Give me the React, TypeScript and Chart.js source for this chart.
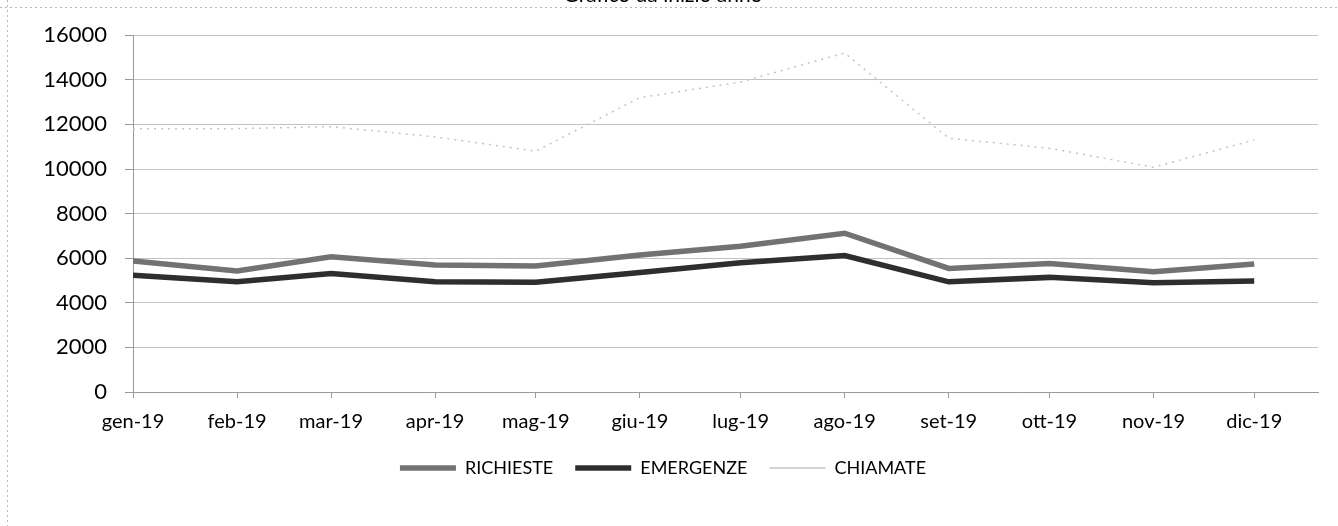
import React, { useEffect, useRef } from "react";
import { Chart, registerables } from "chart.js";

Chart.register(...registerables);

const TITLE = "Grafico da inizio anno";
const monthLabels = ["gen-19", "feb-19", "mar-19", "apr-19", "mag-19", "giu-19", "lug-19", "ago-19", "set-19", "ott-19", "nov-19", "dic-19"];
// day offset of the first day of each month from 1 Jan 2019 (date axis)
const monthDays = [0, 31, 59, 90, 120, 151, 181, 212, 243, 273, 304, 334];
const richieste = [5880, 5430, 6060, 5690, 5650, 6140, 6540, 7120, 5540, 5760, 5390, 5740];
const emergenze = [5240, 4940, 5310, 4940, 4920, 5360, 5800, 6120, 4940, 5140, 4900, 4980];
const chiamate = [11810, 11810, 11900, 11440, 10800, 13200, 13900, 15200, 11380, 10930, 10080, 11300];
const yTicks = [0, 2000, 4000, 6000, 8000, 10000, 12000, 14000, 16000];

const FONT = "Lato, 'Noto Sans', sans-serif";

const framePlugin = {
  id: "frame",
  beforeDraw(chart: any) {
    const ctx = chart.ctx;
    ctx.save();
    ctx.strokeStyle = "#b8b8b8";
    ctx.lineWidth = 1;
    ctx.setLineDash([2, 3]);
    ctx.beginPath();
    ctx.moveTo(0, 7.5);
    ctx.lineTo(chart.width, 7.5);
    ctx.moveTo(7.5, 0);
    ctx.lineTo(7.5, chart.height);
    ctx.stroke();
    ctx.restore();
  },
};

export default function App() {
  const ref = useRef<HTMLCanvasElement>(null);
  useEffect(() => {
    const toPts = (arr: number[]) => arr.map((v, i) => ({ x: monthDays[i], y: v }));
    const chart = new Chart(ref.current!, {
      type: "line",
      data: {
        datasets: [
          { label: "RICHIESTE", data: toPts(richieste), borderColor: "#727272", backgroundColor: "#727272", borderWidth: 5.5, pointRadius: 0, tension: 0 },
          { label: "EMERGENZE", data: toPts(emergenze), borderColor: "#2e2e2e", backgroundColor: "#2e2e2e", borderWidth: 5.5, pointRadius: 0, tension: 0 },
          { label: "CHIAMATE", data: toPts(chiamate), borderColor: "#c4c4c4", backgroundColor: "#c4c4c4", borderWidth: 1.5, borderDash: [2, 5], pointRadius: 0, tension: 0 },
        ],
      },
      options: {
        animation: false,
        responsive: true,
        maintainAspectRatio: false,
        layout: { padding: { left: 8, right: 20, top: 0, bottom: 39 } },
        plugins: {
          title: {
            display: true,
            text: TITLE,
            color: "#000",
            font: { family: FONT, size: 21, weight: "normal" },
            padding: { top: -17, bottom: 27 },
          },
          legend: {
            position: "bottom",
            labels: {
              usePointStyle: true,
              pointStyle: "line",
              pointStyleWidth: 56,
              color: "#000",
              font: { family: FONT, size: 18 },
              padding: 22,
            },
          },
          tooltip: { enabled: false },
        },
        scales: {
          x: {
            type: "linear",
            min: 0,
            max: 353,
            afterBuildTicks: (scale: any) => {
              scale.ticks = monthDays.map((d) => ({ value: d }));
            },
            ticks: {
              autoSkip: false,
              maxRotation: 0,
              color: "#000",
              font: { family: FONT, size: 20 },
              padding: 12,
              callback: (v: any) => {
                const i = monthDays.indexOf(Number(v));
                return i >= 0 ? monthLabels[i] : "";
              },
            },
            grid: { drawOnChartArea: false, tickLength: 6, color: "#9a9a9a" },
            border: { display: true, color: "#9a9a9a" },
            afterFit: (scale: any) => { scale.height = 45; },
          },
          y: {
            min: 0,
            max: 16000,
            afterBuildTicks: (scale: any) => {
              scale.ticks = yTicks.map((v) => ({ value: v }));
            },
            ticks: {
              color: "#000",
              font: { family: FONT, size: 22 },
              padding: 18,
              callback: (v: any) => String(v),
            },
            grid: { color: "#c2c2c2", tickLength: 8, tickColor: "#9a9a9a", lineWidth: 1 },
            border: { display: true, color: "#9a9a9a" },
            afterFit: (scale: any) => { scale.width = 125; },
          },
        },
      },
      plugins: [framePlugin],
    });
    return () => chart.destroy();
  }, []);
  return (
    <div style={{ position: "fixed", left: 0, top: 0, width: 1338, height: 526, background: "#fff" }}>
      <canvas ref={ref} />
    </div>
  );
}
